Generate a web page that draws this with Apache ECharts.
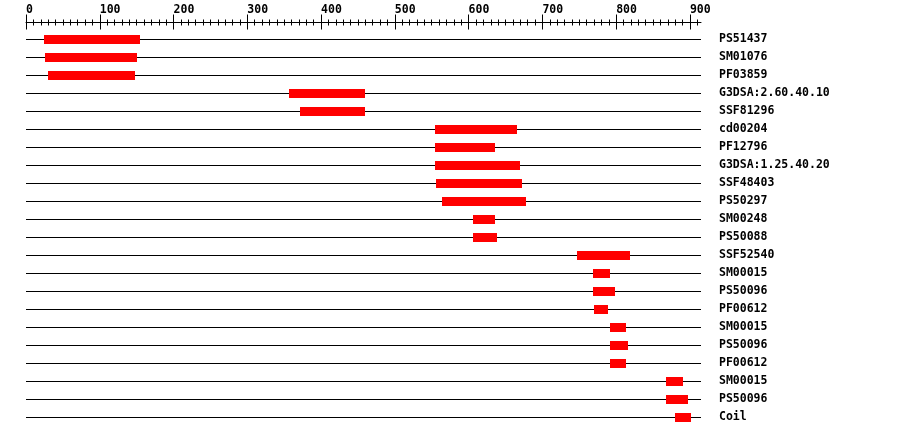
<!DOCTYPE html>
<html><head><meta charset="utf-8">
<script src="https://cdn.jsdelivr.net/npm/echarts@6/dist/echarts.min.js"></script>
<style>html,body{margin:0;padding:0;background:#fff}#c{width:900px;height:436px}</style>
</head><body><div id="c"></div>
<script>
const proteinLength = 915;
const domainNames = ['PS51437','SM01076','PF03859','G3DSA:2.60.40.10','SSF81296','cd00204','PF12796','G3DSA:1.25.40.20','SSF48403','PS50297','SM00248','PS50088','SSF52540','SM00015','PS50096','PF00612','SM00015','PS50096','PF00612','SM00015','PS50096','Coil'];
const domainStart = [24,26,30,357,371,555,555,555,556,564,606,606,747,768,769,770,791,792,792,867,868,880];
const domainEnd =   [155,151,148,460,459,666,636,670,672,678,636,639,819,791,799,789,814,816,814,890,898,902];
const majorTicks = [0,100,200,300,400,500,600,700,800,900];
const minorTicks = [];
for (let v = 0; v <= 910; v += 10) minorTicks.push(v);

const rowIdx = domainNames.map((_, i) => i);
const FONT = '"DejaVu Sans Mono", monospace';

function baseAxis(extra) {
  return Object.assign({
    type: 'value', position: 'top', min: 0, max: proteinLength, offset: 8,
    splitLine: { show: false },
    axisLine: { show: false },
    axisLabel: { show: false },
    axisTick: { show: false }
  }, extra);
}

const option = {
  animation: false,
  backgroundColor: '#fff',
  grid: { left: 26, top: 30.5, width: 675, height: 396 },
  xAxis: [
    baseAxis({
      axisLine: { show: true, lineStyle: { color: '#000', width: 1 } },
      axisTick: { show: true, customValues: majorTicks, length: 8, lineStyle: { color: '#000', width: 1 } },
      axisLabel: { show: true, customValues: majorTicks, align: 'left', margin: 6,
        color: '#000', fontFamily: FONT, fontWeight: 'bold', fontSize: 11.5,
        formatter: v => String(v) }
    }),
    baseAxis({ axisTick: { show: true, inside: true, customValues: majorTicks, length: 7, lineStyle: { color: '#000', width: 1 } } }),
    baseAxis({ axisTick: { show: true, customValues: minorTicks, length: 3, lineStyle: { color: '#000', width: 1 } } }),
    baseAxis({ axisTick: { show: true, inside: true, customValues: minorTicks, length: 3, lineStyle: { color: '#000', width: 1 } } })
  ],
  yAxis: {
    type: 'category', data: domainNames, inverse: true, position: 'right',
    axisLine: { show: false }, axisTick: { show: false }, splitLine: { show: false },
    axisLabel: { margin: 18, color: '#000', fontFamily: FONT, fontWeight: 'bold', fontSize: 11.5, padding: [2, 0, 0, 0] }
  },
  series: [
    {
      type: 'custom',
      xAxisIndex: 0,
      data: rowIdx.map(i => [0, proteinLength, i]),
      renderItem: function (params, api) {
        const a = api.coord([api.value(0), api.value(2)]);
        const b = api.coord([api.value(1), api.value(2)]);
        const y = Math.floor(a[1]);
        return { type: 'rect', shape: { x: Math.round(a[0]), y: y, width: Math.round(b[0]) - Math.round(a[0]), height: 1 }, style: { fill: '#000' } };
      }
    },
    {
      type: 'custom',
      xAxisIndex: 0,
      data: rowIdx.map(i => [domainStart[i], domainEnd[i], i]),
      renderItem: function (params, api) {
        const a = api.coord([api.value(0), api.value(2)]);
        const b = api.coord([api.value(1), api.value(2)]);
        const y = Math.floor(a[1]) - 4;
        return { type: 'rect', shape: { x: Math.round(a[0]), y: y, width: Math.round(b[0]) - Math.round(a[0]), height: 9 }, style: { fill: '#ff0000' } };
      }
    }
  ]
};
const chart = echarts.init(document.getElementById('c'), null, { renderer: 'canvas' });
chart.setOption(option);
</script>
</body></html>
